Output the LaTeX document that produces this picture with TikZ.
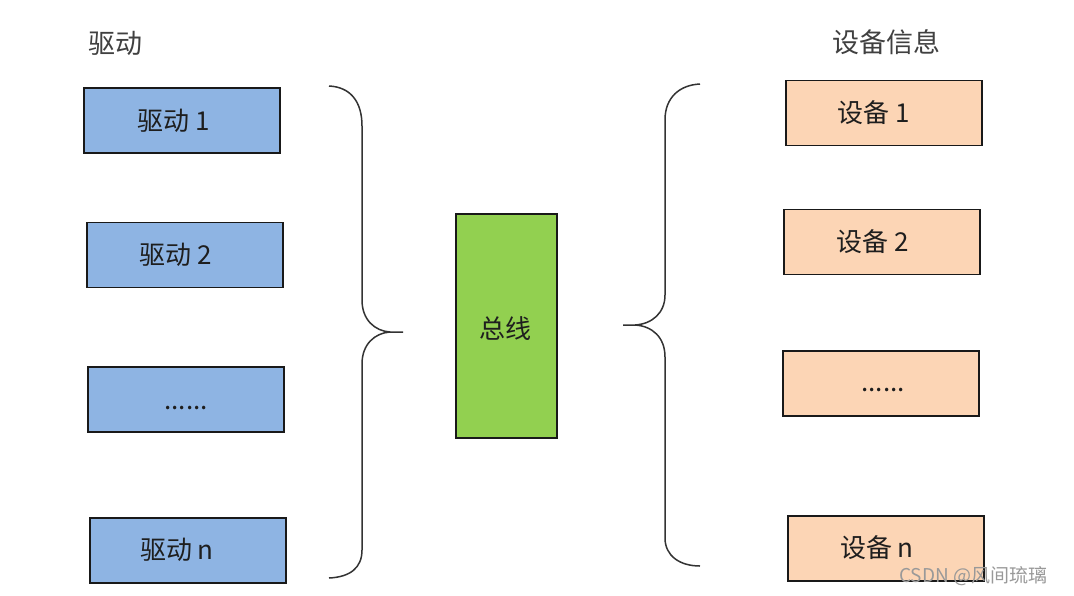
\documentclass[tikz,border=0pt]{standalone}
\usepackage{fontspec}
\setmainfont{Noto Sans CJK SC}
\definecolor{drvblue}{RGB}{142,180,227}
\definecolor{devpeach}{RGB}{252,213,181}
\definecolor{busgreen}{RGB}{146,208,80}
\definecolor{labgray}{RGB}{64,64,64}
\definecolor{txtdark}{RGB}{30,30,30}
\begin{document}
\begin{tikzpicture}[x=1pt,y=-1pt,
  box/.style={draw=black!90, line width=1.7pt, minimum width=196pt, minimum height=65pt, inner sep=0pt},
  drv/.style={box, fill=drvblue},
  dev/.style={box, fill=devpeach},
  txt/.style={font=\fontsize{26}{30}\selectfont, text=txtdark, inner sep=0pt},
  dots/.style={txt, anchor=base},
  title/.style={font=\fontsize{27}{31}\selectfont, text=labgray, inner sep=0pt},
  brace/.style={draw=black!80, line width=1.5pt}]
\useasboundingbox[fill=white] (0,0) rectangle (1074,595);

% titles
\node[title] (tdrv) at (115,43) {驱动};
\node[title] (tdev) at (886,42) {设备信息};

% driver boxes
\node[drv] (d1) at (182,120.5) {};
\node[drv] (d2) at (185,255) {};
\node[drv] (d3) at (186,399.5) {};
\node[drv] (d4) at (188,550.5) {};
\node[txt] (d1t) at (174,121) {驱动 1};
\node[txt] (d2t) at (176,255) {驱动 2};
\node[dots] (d3t) at (186,409) {......};
\node[txt] (d4t) at (177,550) {驱动 n};

% device boxes
\node[dev] (e1) at (884,113) {};
\node[dev] (e2) at (882,242) {};
\node[dev] (e3) at (881,383.5) {};
\node[dev] (e4) at (886,548.5) {};
\node[txt] (e1t) at (874,113) {设备 1};
\node[txt] (e2t) at (873,242) {设备 2};
\node[dots] (e3t) at (883,391) {......};
\node[txt] (e4t) at (877,548) {设备 n};

% bus
\node[draw=black!90, line width=1.7pt, fill=busgreen, minimum width=101pt, minimum height=224pt, inner sep=0pt] (bus) at (506.5,326) {};
\node[txt] (bust) at (505,329) {总线};

% left brace
\coordinate (lb) at (403,332);
\draw[brace] (329,86) .. controls (350,87) and (362,101) .. (362,126)
  -- (362,300) .. controls (362,320) and (375,331) .. (390,332) -- (lb);
\draw[brace] (390,332) .. controls (375,333) and (362,344) .. (362,364)
  -- (362,550) .. controls (362,568) and (350,577) .. (329,578);

% right brace
\coordinate (rb) at (623,325);
\draw[brace] (700,84) .. controls (680,85) and (665,97) .. (665,120)
  -- (665,295) .. controls (665,313) and (652,324) .. (635,325) -- (rb);
\draw[brace] (635,325) .. controls (652,326) and (665,337) .. (665,357)
  -- (665,538) .. controls (665,556) and (680,566) .. (700,566);

% watermark
\node[font=\fontsize{19}{22}\selectfont, text=black!40, inner sep=0pt, anchor=west] (wm) at (899,576) {CSDN @风间琉璃};
\end{tikzpicture}
\end{document}
